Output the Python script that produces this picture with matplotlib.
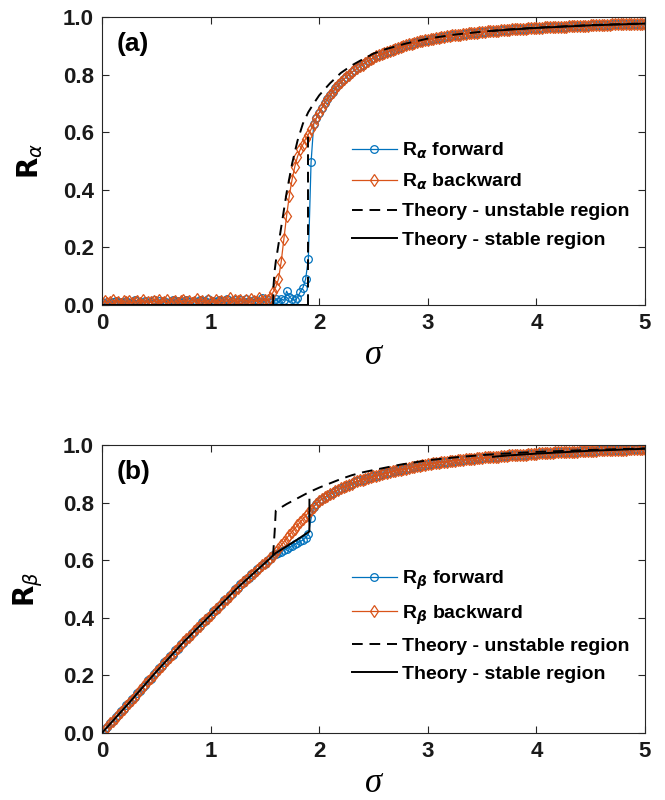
import numpy as np
import matplotlib
matplotlib.use('Agg')
import matplotlib.pyplot as plt

plt.rcParams['font.family'] = ['Liberation Sans', 'DejaVu Sans']
plt.rcParams['mathtext.fontset'] = 'dejavusans'

# colours (matlab defaults)
BLUE = '#0072BD'
ORANGE = '#D95319'
AX_COL = '#262626'

# ---------------- panel (a) : R_alpha ----------------
# sigma = 0 ... 1.925 (step 0.025), lower / transition part
ra_fwd_low = [
    0.010, 0.005, 0.012, 0.007, 0.009, 0.015, 0.006, 0.011, 0.008, 0.013,
    0.006, 0.010, 0.016, 0.005, 0.012, 0.008, 0.014, 0.007, 0.010, 0.018,
    0.006, 0.013, 0.009, 0.015, 0.007, 0.011, 0.017, 0.008, 0.013, 0.007,
    0.012, 0.019, 0.009, 0.007, 0.014, 0.010, 0.016, 0.008, 0.013, 0.020,
    0.008, 0.014, 0.010, 0.017, 0.009, 0.015, 0.021, 0.008, 0.013, 0.018,
    0.011, 0.016, 0.009, 0.022, 0.014, 0.010, 0.018, 0.015, 0.012, 0.023,
    0.010, 0.016, 0.009, 0.013, 0.020, 0.010, 0.022, 0.016, 0.048, 0.028,
    0.020, 0.016, 0.026, 0.045, 0.060, 0.090, 0.160, 0.495,
]
ra_bwd_low = [
    0.008, 0.013, 0.006, 0.011, 0.016, 0.007, 0.012, 0.005, 0.014, 0.009,
    0.013, 0.006, 0.010, 0.015, 0.008, 0.019, 0.007, 0.012, 0.009, 0.014,
    0.010, 0.016, 0.007, 0.012, 0.018, 0.008, 0.011, 0.015, 0.006, 0.013,
    0.017, 0.009, 0.014, 0.007, 0.011, 0.021, 0.010, 0.013, 0.008, 0.016,
    0.012, 0.008, 0.018, 0.011, 0.015, 0.009, 0.014, 0.023, 0.010, 0.017,
    0.013, 0.019, 0.011, 0.016, 0.009, 0.021, 0.015, 0.012, 0.025, 0.014,
    0.018, 0.016, 0.023, 0.045, 0.062, 0.090, 0.150, 0.230, 0.310, 0.380,
    0.435, 0.480, 0.515, 0.540, 0.557, 0.577, 0.592, 0.610,
]
# sigma = 1.95 ... 5.0 (step 0.025), both sweeps on the same branch
ra_upper = [
    0.630, 0.650,
    0.668, 0.685, 0.700, 0.715, 0.728, 0.740, 0.752, 0.763, 0.774, 0.783,
    0.792, 0.800, 0.808, 0.815, 0.822, 0.829, 0.835, 0.841, 0.847, 0.853,
    0.858, 0.863, 0.867, 0.871, 0.875, 0.879, 0.883, 0.887, 0.890, 0.893,
    0.896, 0.899, 0.902, 0.905, 0.907, 0.910, 0.912, 0.915, 0.917, 0.919,
    0.921, 0.923, 0.925, 0.927, 0.928, 0.930, 0.932, 0.933, 0.934, 0.936,
    0.937, 0.938, 0.939, 0.941, 0.942, 0.943, 0.944, 0.945, 0.946, 0.947,
    0.948, 0.949, 0.950, 0.950, 0.951, 0.952, 0.953, 0.954, 0.954, 0.955,
    0.956, 0.957, 0.957, 0.958, 0.959, 0.959, 0.960, 0.961, 0.961, 0.962,
    0.962, 0.963, 0.963, 0.964, 0.964, 0.965, 0.965, 0.966, 0.966, 0.967,
    0.967, 0.967, 0.968, 0.968, 0.969, 0.969, 0.969, 0.970, 0.970, 0.970,
    0.971, 0.971, 0.972, 0.972, 0.972, 0.973, 0.973, 0.973, 0.974, 0.974,
    0.974, 0.975, 0.975, 0.975, 0.975, 0.976, 0.976, 0.976, 0.977, 0.977,
    0.977,
]
# theory (a)
ra_unst_sig = [1.575, 1.58, 1.59, 1.60, 1.625, 1.65, 1.70, 1.75, 1.80, 1.85,
               1.90, 1.95, 2.0, 2.1, 2.2, 2.3, 2.4, 2.5, 2.6, 2.8, 3.0, 3.25,
               3.5, 3.75, 4.0, 4.5, 5.0]
ra_unst_val = [0.0, 0.07, 0.12, 0.15, 0.21, 0.27, 0.39, 0.49, 0.57, 0.63,
               0.67, 0.70, 0.728, 0.770, 0.806, 0.832, 0.853, 0.873, 0.887,
               0.908, 0.925, 0.939, 0.949, 0.957, 0.963, 0.972, 0.978]
ra_jump_sig = [1.9, 1.9]
ra_jump_val = [0.0, 0.60]
ra_stab_low_sig = [0.0, 1.9]
ra_stab_low_val = [0.0, 0.0]
ra_stab_up_sig = [3.6, 3.75, 4.0, 4.5, 5.0]
ra_stab_up_val = [0.952, 0.956, 0.962, 0.971, 0.977]

# ---------------- panel (b) : R_beta ----------------
rb_fwd_low = [
    0.003, 0.015, 0.020, 0.036, 0.041, 0.056, 0.062, 0.077, 0.083, 0.098,
    0.103, 0.119, 0.124, 0.140, 0.146, 0.161, 0.167, 0.183, 0.189, 0.205,
    0.211, 0.226, 0.231, 0.246, 0.252, 0.267, 0.272, 0.287, 0.292, 0.308,
    0.313, 0.328, 0.332, 0.347, 0.351, 0.366, 0.370, 0.385, 0.389, 0.404,
    0.408, 0.423, 0.427, 0.442, 0.446, 0.461, 0.465, 0.480, 0.484, 0.499,
    0.503, 0.517, 0.521, 0.534, 0.538, 0.551, 0.555, 0.568, 0.572, 0.585,
    0.588, 0.601, 0.604, 0.617, 0.620, 0.625, 0.630, 0.635, 0.640, 0.645,
    0.650, 0.655, 0.660, 0.665, 0.670, 0.678, 0.690, 0.745,
]
rb_bwd_low = [
    0.004, 0.012, 0.022, 0.033, 0.043, 0.053, 0.064, 0.074, 0.085, 0.095,
    0.105, 0.116, 0.126, 0.137, 0.148, 0.158, 0.169, 0.180, 0.191, 0.202,
    0.213, 0.223, 0.233, 0.243, 0.254, 0.264, 0.274, 0.284, 0.294, 0.305,
    0.315, 0.325, 0.334, 0.344, 0.353, 0.363, 0.372, 0.382, 0.391, 0.401,
    0.410, 0.420, 0.429, 0.439, 0.448, 0.458, 0.467, 0.477, 0.486, 0.496,
    0.505, 0.514, 0.523, 0.531, 0.540, 0.548, 0.557, 0.565, 0.574, 0.582,
    0.590, 0.598, 0.606, 0.614, 0.628, 0.640, 0.652, 0.664, 0.676, 0.688,
    0.699, 0.710, 0.721, 0.732, 0.743, 0.754, 0.765, 0.775,
]
rb_upper = [
    0.786, 0.796,
    0.805, 0.812, 0.818, 0.824, 0.830, 0.835, 0.840, 0.845, 0.850, 0.854,
    0.858, 0.862, 0.866, 0.870, 0.874, 0.877, 0.880, 0.883, 0.886, 0.889,
    0.892, 0.894, 0.897, 0.899, 0.902, 0.904, 0.906, 0.908, 0.910, 0.912,
    0.914, 0.916, 0.918, 0.920, 0.922, 0.924, 0.926, 0.928, 0.930, 0.932,
    0.934, 0.935, 0.936, 0.938, 0.939, 0.940, 0.941, 0.942, 0.943, 0.945,
    0.946, 0.947, 0.948, 0.949, 0.950, 0.951, 0.952, 0.953, 0.954, 0.955,
    0.956, 0.957, 0.957, 0.958, 0.959, 0.960, 0.960, 0.961, 0.962, 0.963,
    0.964, 0.964, 0.965, 0.966, 0.966, 0.967, 0.967, 0.968, 0.969, 0.969,
    0.970, 0.971, 0.971, 0.972, 0.972, 0.973, 0.973, 0.974, 0.974, 0.975,
    0.975, 0.976, 0.976, 0.977, 0.977, 0.977, 0.978, 0.978, 0.979, 0.979,
    0.980, 0.980, 0.980, 0.981, 0.981, 0.982, 0.982, 0.982, 0.983, 0.983,
    0.983, 0.984, 0.984, 0.984, 0.985, 0.985, 0.985, 0.986, 0.986, 0.986,
    0.987,
]
# theory (b)
rb_unst_sig = [1.575, 1.59, 1.60, 1.70, 1.80, 1.90, 2.0, 2.1, 2.2, 2.3, 2.4,
               2.5, 2.75, 3.0, 3.25, 3.5, 3.75, 4.0, 4.5, 5.0]
rb_unst_val = [0.615, 0.70, 0.772, 0.795, 0.815, 0.835, 0.852, 0.867, 0.882,
               0.895, 0.905, 0.913, 0.932, 0.947, 0.957, 0.965, 0.971, 0.976,
               0.983, 0.988]
rb_stab_low_sig = [0.0, 0.25, 0.5, 0.75, 1.0, 1.25, 1.5, 1.6, 1.7, 1.8, 1.91, 1.91]
rb_stab_low_val = [0.0, 0.105, 0.213, 0.315, 0.41, 0.505, 0.59, 0.625, 0.648,
                   0.672, 0.70, 0.81]
rb_stab_up_sig = [3.6, 3.75, 4.0, 4.5, 5.0]
rb_stab_up_val = [0.959, 0.964, 0.970, 0.980, 0.987]

ytick_vals = [0.0, 0.2, 0.4, 0.6, 0.8, 1.0]
xtick_vals = [0, 1, 2, 3, 4, 5]


def draw_panel(ax, fwd, bwd, unst, jumps, stab, sym, tag):
    fwd = np.array(fwd)
    bwd = np.array(bwd)
    sig_f = np.linspace(0, 5, len(fwd))
    sig_b = np.linspace(0, 5, len(bwd))

    h1, = ax.plot(sig_f, fwd, '-o', color=BLUE, lw=0.9, ms=5.5, mfc='none',
                  mew=0.9, label=r'R$_{\boldsymbol{%s}}$ forward' % sym, zorder=2)
    h2, = ax.plot(sig_b, bwd, '-d', color=ORANGE, lw=0.9, ms=6, mfc='none',
                  mew=0.9, label=r'R$_{\boldsymbol{%s}}$ backward' % sym, zorder=2.1)
    h3, = ax.plot(unst[0], unst[1], color='black', lw=1.4, dashes=(5.5, 3.5),
                  label='Theory - unstable region', zorder=3)
    for js, jv in jumps:
        ax.plot(js, jv, color='black', lw=1.4, dashes=(5.5, 3.5), zorder=3)
    h4 = None
    for ss, sv in stab:
        h, = ax.plot(ss, sv, color='black', lw=1.4, zorder=3.1)
        if h4 is None:
            h4 = h
            h4.set_label('Theory - stable region')

    ax.set_xlim(0, 5)
    ax.set_ylim(0, 1)
    ax.set_xticks(xtick_vals)
    ax.set_yticks(ytick_vals)
    ax.set_yticklabels(['%.1f' % v for v in ytick_vals])
    ax.tick_params(direction='in', top=True, right=True, length=5, width=0.8,
                   colors=AX_COL, labelsize=16, pad=6)
    for t in ax.get_xticklabels() + ax.get_yticklabels():
        t.set_fontweight('bold')
        t.set_color('#1a1a1a')
    for sp in ax.spines.values():
        sp.set_color(AX_COL)
        sp.set_linewidth(0.8)

    ax.set_xlabel('σ', fontsize=25, fontstyle='italic',
                  family=['Liberation Serif', 'DejaVu Serif'], labelpad=3)
    ax.set_ylabel(r'$\mathbf{R}_{%s}$' % sym, fontsize=20, labelpad=13)
    ax.text(0.026, 0.905, tag, transform=ax.transAxes, fontsize=19,
            fontweight='bold', va='center', ha='left')

    ax.legend(handles=[h1, h2, h3, h4], loc='upper left',
              bbox_to_anchor=(0.46, 0.57), frameon=False,
              prop={'size': 14, 'weight': 'bold'},
              handlelength=2.3, handletextpad=0.3, borderpad=0,
              borderaxespad=0, labelspacing=0.55)


fig = plt.figure(figsize=(6.65, 8.0), dpi=100)
ax_a = fig.add_axes([0.1534, 0.61875, 0.8165, 0.36])
ax_b = fig.add_axes([0.1534, 0.08375, 0.8165, 0.36])

draw_panel(ax_a, ra_fwd_low + ra_upper, ra_bwd_low + ra_upper,
           (ra_unst_sig, ra_unst_val), [(ra_jump_sig, ra_jump_val)],
           [(ra_stab_low_sig, ra_stab_low_val), (ra_stab_up_sig, ra_stab_up_val)],
           r'\alpha', '(a)')
draw_panel(ax_b, rb_fwd_low + rb_upper, rb_bwd_low + rb_upper,
           (rb_unst_sig, rb_unst_val), [],
           [(rb_stab_low_sig, rb_stab_low_val), (rb_stab_up_sig, rb_stab_up_val)],
           r'\beta', '(b)')

fig.savefig('out.png', dpi=100)
